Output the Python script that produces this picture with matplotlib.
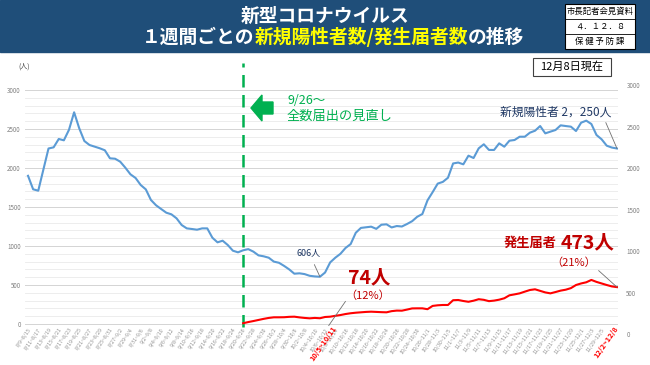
import numpy as np
import pandas as pd
import matplotlib
matplotlib.use('Agg')
import matplotlib.pyplot as plt
import matplotlib.transforms as mtransforms
from matplotlib.patches import Rectangle, Polygon

plt.rcParams['font.family'] = ['Noto Sans CJK JP', 'DejaVu Sans']

# 週ごとの集計 (8/9~8/15 から 12/2~12/8 まで, 1日ずつずらした7日間)
week_end = pd.date_range('2022-08-15', '2022-12-08', freq='D')
week_start = week_end - pd.Timedelta(days=6)
labels = [f'{s.month}/{s.day}~{e.month}/{e.day}' for s, e in zip(week_start, week_end)]

# 新規陽性者数 (1週間合計)
new_cases = [1900, 1727, 1709, 1980, 2250, 2265, 2372, 2355, 2490, 2714,
             2509, 2346, 2295, 2274, 2253, 2227, 2124, 2119, 2081, 2004,
             1919, 1872, 1782, 1726, 1590, 1522, 1474, 1427, 1406, 1355,
             1269, 1226, 1218, 1209, 1226, 1226, 1106, 1047, 1068, 1013,
             940, 919, 945, 960, 928, 880, 868, 850, 800, 785,
             745, 700, 645, 650, 640, 618, 610, 606, 660, 790,
             850, 900, 975, 1025, 1170, 1232, 1240, 1248, 1220, 1273,
             1278, 1238, 1256, 1250, 1282, 1318, 1375, 1410, 1585, 1690,
             1800, 1822, 1875, 2058, 2070, 2047, 2158, 2128, 2252, 2304,
             2232, 2231, 2316, 2273, 2350, 2359, 2401, 2401, 2453, 2478,
             2538, 2444, 2466, 2487, 2547, 2538, 2530, 2474, 2581, 2607,
             2564, 2423, 2368, 2286, 2262, 2250]

# 発生届者数 (9/20~9/26 の週から)
notified_from = '9/20~9/26'
notified = [10, 25, 38, 52, 66, 78, 86, 86, 87, 92,
            94, 85, 78, 73, 78, 74, 90, 94, 105, 115,
            128, 138, 145, 150, 155, 158, 155, 152, 150, 165,
            172, 171, 185, 200, 201, 201, 190, 232, 240, 244,
            244, 305, 308, 295, 285, 299, 318, 310, 293, 300,
            312, 330, 368, 380, 393, 415, 436, 445, 425, 405,
            393, 410, 428, 440, 460, 500, 520, 535, 565, 540,
            520, 500, 482, 473]

red_labels = ['10/5~10/11', '12/2~12/8']
skip_labels = ['12/1~12/7']

x = np.arange(len(labels))
i0 = labels.index(notified_from)
xr = x[i0:i0 + len(notified)]

fig = plt.figure(figsize=(6.5, 3.65), dpi=100)
# pixel coords measured from the top-left corner
px = mtransforms.Affine2D().scale(1 / 650, -1 / 365).translate(0, 1) + fig.transFigure

# header
fig.patches.append(Rectangle((0, 0), 650, 52, transform=px, color='#1F4E79', zorder=0))
fig.text(325, 16, '新型コロナウイルス', transform=px, ha='center', va='center',
         color='white', fontsize=13.5, weight='bold')
parts = [('１週間ごとの', 'white'), ('新規陽性者数/発生届者数', '#FFFF00'), ('の推移', 'white')]
r = fig.canvas.get_renderer()
widths = []
for s, c in parts:
    t = fig.text(0, 0, s, fontsize=13.5, weight='bold')
    widths.append(t.get_window_extent(r).width)
    t.remove()
xpos = 333 - sum(widths) / 2
for (s, c), w in zip(parts, widths):
    fig.text(xpos, 37, s, transform=px, ha='left', va='center', color=c,
             fontsize=13.5, weight='bold')
    xpos += w

# stamp box
fig.patches.append(Rectangle((565, 4), 70, 45, transform=px, facecolor='white',
                             edgecolor='black', lw=0.8, zorder=1))
for yy in (19, 34):
    fig.lines.append(plt.Line2D([565, 635], [yy, yy], transform=px, color='black', lw=0.6))
for yy, s in zip((11.5, 26.5, 41.5), ('市長記者会見資料', '４．１２．８', '保 健 予 防 課')):
    fig.text(600, yy, s, transform=px, ha='center', va='center', fontsize=6, color='black')

# date box
fig.patches.append(Rectangle((533, 58), 78, 18, transform=px, facecolor='white',
                             edgecolor='#404040', lw=0.8))
fig.text(572, 67, '12月8日現在', transform=px, ha='center', va='center', fontsize=8)
fig.text(18, 67, '(人)', transform=px, ha='left', va='center', fontsize=5, color='#404040')

ax = fig.add_axes([25 / 650, 1 - 334 / 365, 593 / 650, 249 / 365])
ax.set_xlim(-0.59, len(labels) - 1 + 0.2)
ax.set_ylim(-128, 3064)
for s in ax.spines.values():
    s.set_visible(False)
ax.set_yticks(range(0, 3001, 500))
ax.set_yticks(range(0, 3001, 100), minor=True)
ax.grid(axis='y', which='major', color='#D4D4D4', lw=0.7)
ax.grid(axis='y', which='minor', color='#EAEAEA', lw=0.6)
ax.tick_params(axis='y', which='both', length=0, labelsize=4.5, labelcolor='#808080', pad=3)

ticks = [i for i in x[::2] if labels[i] not in skip_labels]
ax.set_xticks(ticks)
ax.set_xticklabels([labels[i] for i in ticks], rotation=55, ha='right',
                   rotation_mode='anchor', fontsize=3.8, color='#909090')
ax.tick_params(axis='x', length=0, pad=-5)

# red week labels
lab_tf = mtransforms.blended_transform_factory(ax.transData, ax.transAxes)
for s, dx in zip(red_labels, (12, -3)):
    i = labels.index(s)
    off = mtransforms.ScaledTranslation(dx / 100, 9 / 100, fig.dpi_scale_trans)
    ax.text(i, 0.0, s, transform=lab_tf + off,
            rotation=55, ha='right', va='top', rotation_mode='anchor',
            fontsize=5.3, color='#FF0000', weight='bold')

ax.plot(x, new_cases, color='#5B9BD5', lw=1.5, zorder=3)
ax.plot(xr, notified, color='#FF0000', lw=1.5, zorder=3)

# 9/26 line and note
ax.axvline(i0, ymin=0.028, ymax=1.088, color='#00B050', lw=1.8, ls=(0, (5, 3)), clip_on=False)
fig.patches.append(Polygon([(251, 108), (262, 95), (262, 102), (273, 102), (273, 114),
                            (262, 114), (262, 121)], closed=True, transform=px,
                           color='#00B050'))
fig.text(287, 100, '9/26～', transform=px, ha='left', va='center', color='#00B050', fontsize=9)
fig.text(287, 116, '全数届出の見直し', transform=px, ha='left', va='center', color='#00B050', fontsize=9.5)

# annotations
i_min = labels.index(red_labels[0])
ax.annotate('606人', xy=(i_min, new_cases[i_min]), xytext=(54.8, 920), ha='center', va='center',
            fontsize=6.5, color='#1F3864',
            arrowprops=dict(arrowstyle='-', color='#707070', lw=0.6, shrinkA=4, shrinkB=0))
fig.text(348, 278, f'{notified[i_min - i0]}人', transform=px, ha='left', va='center',
         fontsize=14, color='#C00000', weight='bold')
fig.text(345, 296, f'（{notified[i_min - i0] / new_cases[i_min]:.0%}）', transform=px,
         ha='left', va='center', fontsize=8, color='#C00000')
ax.annotate('', xy=(i_min + 1.4, -50), xytext=(62.3, 320),
            arrowprops=dict(arrowstyle='-', color='#707070', lw=0.6))

ax.annotate(f'新規陽性者 {new_cases[-1]:,}人'.replace(',', '，'), xy=(x[-1], new_cases[-1]),
            xytext=(114, 2718), ha='right', va='center', fontsize=8.5, color='#1F3864',
            arrowprops=dict(arrowstyle='-', color='#707070', lw=0.6, shrinkA=1, shrinkB=0,
                            relpos=(0.93, 0.0)))
fig.text(557, 243, '発生届者', transform=px, ha='right', va='center', fontsize=9.5,
         color='#C00000', weight='bold')
fig.text(561, 243, f'{notified[-1]}人', transform=px, ha='left', va='center', fontsize=14,
         color='#C00000', weight='bold')
ax.annotate(f'（{notified[-1] / new_cases[-1]:.0%}）', xy=(x[-1], notified[-1]),
            xytext=(106.5, 785), ha='center', va='center', fontsize=8, color='#C00000',
            arrowprops=dict(arrowstyle='-', color='#707070', lw=0.6, shrinkA=0, shrinkB=0,
                            relpos=(1.0, 0.0)))

ax2 = ax.twinx()
ax2.set_ylim(0, 3000)
for s in ax2.spines.values():
    s.set_visible(False)
ax2.set_yticks(range(0, 3001, 500))
ax2.tick_params(axis='y', length=0, labelsize=4.5, labelcolor='#808080', pad=6)

fig.savefig('out.png', dpi=100)
